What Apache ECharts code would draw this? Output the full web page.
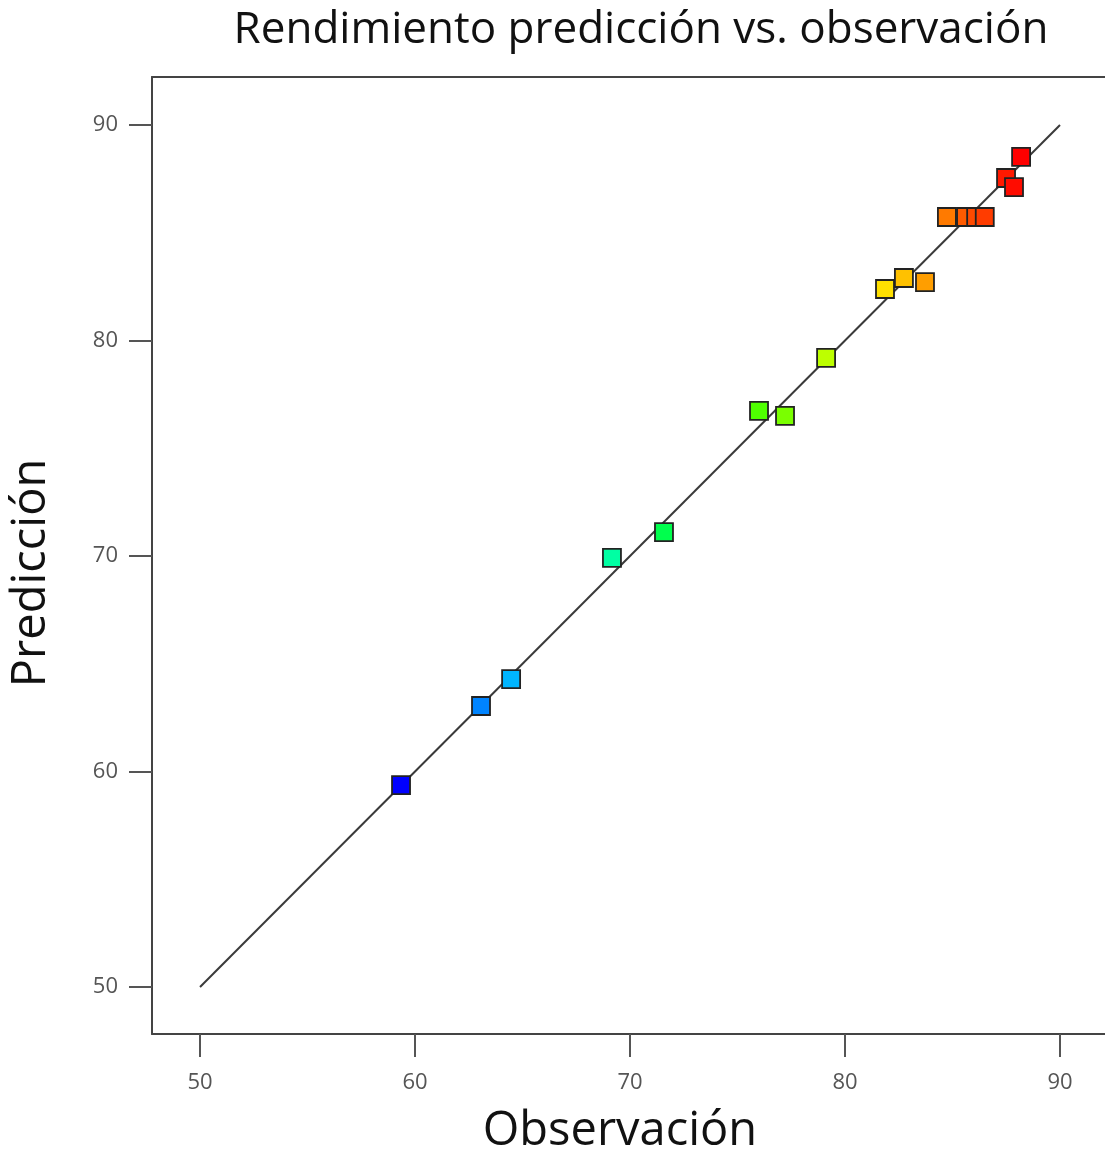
<!DOCTYPE html>
<html>
<head>
<meta charset="utf-8">
<script src="https://cdn.jsdelivr.net/npm/echarts@6/dist/echarts.min.js"></script>
<style>
html,body{margin:0;padding:0;background:#fff;}
#chart{width:1105px;height:1155px;}
</style>
</head>
<body>
<div id="chart"></div>
<script>
// Data
const observed  = [59.35, 63.07, 64.47, 69.16, 71.58, 76.00, 77.21, 79.12, 81.86, 82.74, 83.72, 84.74, 85.63, 86.10, 86.50, 87.49, 87.86, 88.19];
const predicted = [59.37, 63.04, 64.29, 69.91, 71.11, 76.73, 76.50, 79.19, 82.39, 82.90, 82.71, 85.73, 85.73, 85.73, 85.73, 87.54, 87.12, 88.52];
const refLine = [[50, 50], [90, 90]];
const tickValues = [50, 60, 70, 80, 90];
const titleText = 'Rendimiento predicción vs. observación';
const xName = 'Observación';
const yName = 'Predicción';

const points = observed.map((o, i) => [o, predicted[i]]);

const chart = echarts.init(document.getElementById('chart'));
const FONT = '"Open Sans", "Noto Sans", sans-serif';
const XMIN = 47.767, XMAX = 47.767 + 953 / 21.5;
chart.setOption({
  animation: false,
  backgroundColor: '#ffffff',
  grid: {left: 152, top: 77, width: 953, height: 957, show: false},
  xAxis: [{
    type: 'value', min: XMIN, max: XMAX,
    axisLine: {show: true, lineStyle: {color: '#444', width: 2}},
    axisTick: {show: true, customValues: tickValues, length: 23, lineStyle: {color: '#555', width: 2}},
    axisLabel: {customValues: tickValues, color: '#555', fontSize: 22, fontFamily: FONT, margin: 38},
    splitLine: {show: false}
  }, {
    type: 'value', position: 'top', min: XMIN, max: XMAX,
    axisLine: {show: true, lineStyle: {color: '#444', width: 2}},
    axisTick: {show: false}, axisLabel: {show: false}, splitLine: {show: false}
  }],
  yAxis: {
    type: 'value', min: 47.819, max: 92.227,
    axisLine: {show: true, lineStyle: {color: '#444', width: 2}},
    axisTick: {show: true, customValues: tickValues, length: 23, lineStyle: {color: '#555', width: 2}},
    axisLabel: {customValues: tickValues, color: '#555', fontSize: 22, fontFamily: FONT, margin: 34},
    splitLine: {show: false}
  },
  visualMap: {
    show: false, type: 'continuous', seriesIndex: 1, dimension: 0,
    min: 59.35, max: 88.19,
    inRange: {color: ['#0000ff', '#00ffff', '#00ff00', '#ffff00', '#ff0000']}
  },
  series: [
    {type: 'line', data: refLine, symbol: 'none', silent: true, z: 1,
     lineStyle: {color: '#3a3a3a', width: 2}},
    {type: 'scatter', data: points, symbol: 'rect', symbolSize: 18, z: 2,
     itemStyle: {opacity: 1, borderColor: '#222', borderWidth: 1.8}}
  ],
  graphic: [
    {type: 'text', x: 641, y: 30, style: {text: titleText, font: '44px ' + FONT, fill: '#111', textAlign: 'center', textVerticalAlign: 'middle'}},
    {type: 'text', x: 620, y: 1132, style: {text: xName, font: '47px ' + FONT, fill: '#111', textAlign: 'center', textVerticalAlign: 'middle'}},
    {type: 'text', x: 32, y: 573, rotation: Math.PI / 2, style: {text: yName, font: '47px ' + FONT, fill: '#111', textAlign: 'center', textVerticalAlign: 'middle'}}
  ]
});
</script>
</body>
</html>
